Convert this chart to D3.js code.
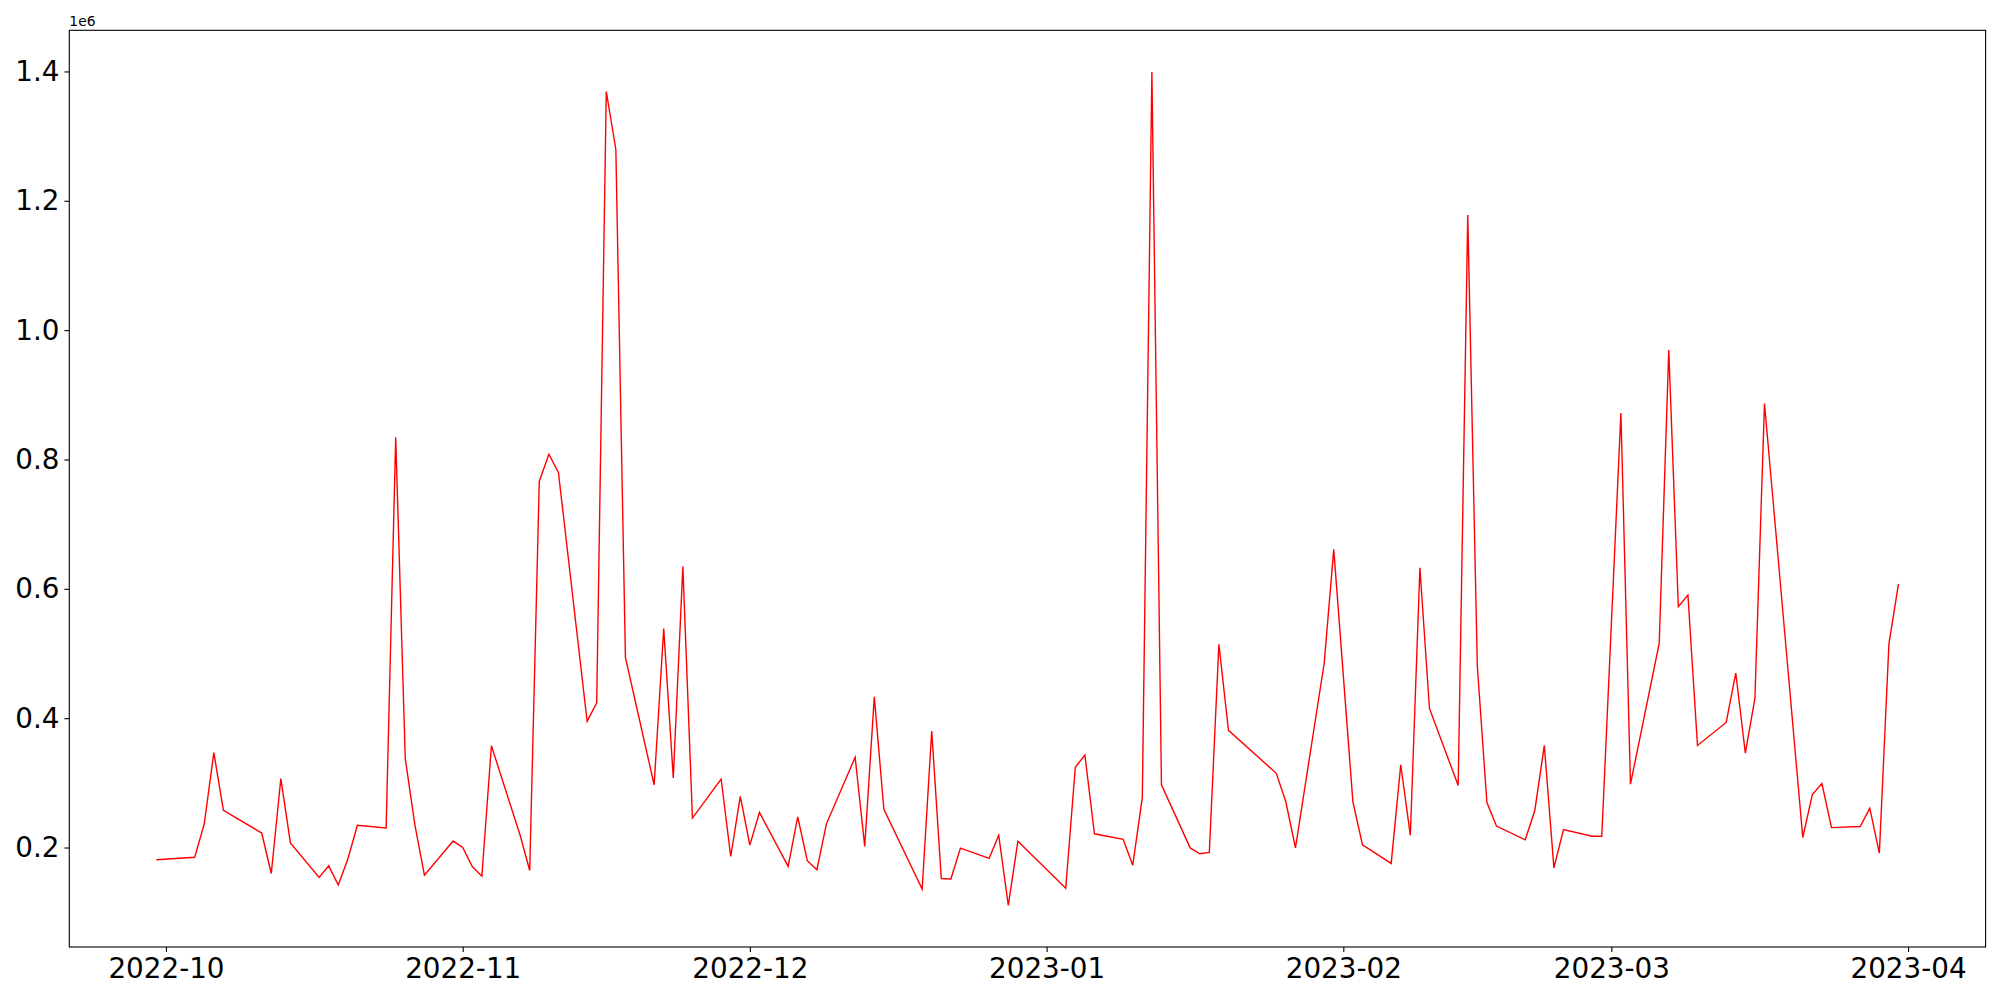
<!DOCTYPE html>
<html>
<head>
<meta charset="utf-8">
<script src="https://cdn.jsdelivr.net/npm/d3@7"></script>
<style>
  body { margin: 0; background: #fff; }
  svg { display: block; font-family: "DejaVu Sans", sans-serif; }
  .axis path, .axis line { stroke: #000; stroke-width: 1.1px; }
  .axis text { fill: #000; font-size: 27.8px; font-family: "DejaVu Sans", sans-serif; }
</style>
</head>
<body>
<svg id="chart"></svg>
<script type="text/javascript">
// trading days (weekends and some holidays missing)
var dates = [
  "2022-09-30",
  "2022-10-04", "2022-10-05", "2022-10-06", "2022-10-07",
  "2022-10-11", "2022-10-12", "2022-10-13", "2022-10-14",
  "2022-10-17", "2022-10-18", "2022-10-19", "2022-10-20", "2022-10-21",
  "2022-10-24", "2022-10-25", "2022-10-26", "2022-10-27", "2022-10-28",
  "2022-10-31", "2022-11-01", "2022-11-02", "2022-11-03", "2022-11-04",
  "2022-11-07", "2022-11-08", "2022-11-09", "2022-11-10", "2022-11-11",
  "2022-11-14", "2022-11-15", "2022-11-16", "2022-11-17", "2022-11-18",
  "2022-11-21", "2022-11-22", "2022-11-23", "2022-11-24", "2022-11-25",
  "2022-11-28", "2022-11-29", "2022-11-30", "2022-12-01", "2022-12-02",
  "2022-12-05", "2022-12-06", "2022-12-07", "2022-12-08", "2022-12-09",
  "2022-12-12", "2022-12-13", "2022-12-14", "2022-12-15",
  "2022-12-19", "2022-12-20", "2022-12-21", "2022-12-22", "2022-12-23",
  "2022-12-26", "2022-12-27", "2022-12-28", "2022-12-29",
  "2023-01-03", "2023-01-04", "2023-01-05", "2023-01-06",
  "2023-01-09", "2023-01-10", "2023-01-11", "2023-01-12", "2023-01-13",
  "2023-01-16", "2023-01-17", "2023-01-18", "2023-01-19", "2023-01-20",
  "2023-01-25", "2023-01-26", "2023-01-27",
  "2023-01-30", "2023-01-31", "2023-02-02", "2023-02-03",
  "2023-02-06", "2023-02-07", "2023-02-08", "2023-02-09", "2023-02-10",
  "2023-02-13", "2023-02-14", "2023-02-15", "2023-02-16", "2023-02-17",
  "2023-02-20", "2023-02-21", "2023-02-22", "2023-02-23", "2023-02-24",
  "2023-02-27", "2023-02-28", "2023-03-02", "2023-03-03",
  "2023-03-06", "2023-03-07", "2023-03-08", "2023-03-09", "2023-03-10",
  "2023-03-13", "2023-03-14", "2023-03-15", "2023-03-16", "2023-03-17",
  "2023-03-21", "2023-03-22", "2023-03-23", "2023-03-24",
  "2023-03-27", "2023-03-28", "2023-03-29", "2023-03-30", "2023-03-31"
];

var volumes = [
  181000,
  185000, 236600, 346700, 257400,
  222400, 159800, 306500, 207100,
  153800, 171600, 142000, 182200, 234300,
  230100, 834200, 337300, 235400, 157300,
  210000, 200000, 170500, 155600, 357400,
  218900, 164400, 766100, 808200, 780000,
  395000, 423700, 1369000, 1279400, 493900,
  296900, 538400, 307600, 634300, 245500,
  305900, 186100, 279200, 203700, 254400,
  170900, 247300, 179700, 165500, 236600,
  339600, 201700, 433000, 258900,
  135800, 380000, 152000, 151300, 199200,
  183300, 218900, 110600, 209700,
  137100, 324100, 343000, 221200,
  212700, 172600, 277500, 1399200, 296900,
  199400, 190400, 192300, 514300, 381200,
  314700, 270300, 199400,
  484900, 661000, 270700, 204300,
  175400, 328000, 218900, 632400, 415000,
  295900, 1178000, 480300, 269600, 233200,
  211900, 256900, 357800, 168500, 227700,
  217500, 217500, 872000, 297900,
  515500, 969100, 572400, 590500, 357800,
  393400, 469800, 345800, 430500, 886600,
  215500, 281800, 298900, 230800,
  232500, 260800, 191300, 514800, 607800
];

var yTicks = [200000, 400000, 600000, 800000, 1000000, 1200000, 1400000];
var offsetLabel = "1e6";

var W = 2000, H = 1000;
var margin = {top: 30.3, right: 14.4, bottom: 53, left: 69.3};
var width = W - margin.left - margin.right;
var height = H - margin.top - margin.bottom;

var parse = d3.utcParse("%Y-%m-%d");
var data = dates.map(function (d, i) {
  return {date: parse(d), value: volumes[i]};
});

// matplotlib-like 5% padding around the data
function padded(ext) {
  var span = ext[1] - ext[0];
  return [ext[0] - span * 0.05, ext[1] + span * 0.05];
}

var xExt = padded(d3.extent(data, function (d) { return +d.date; }));
var yExt = padded(d3.extent(data, function (d) { return d.value; }));

var svg = d3.select("#chart")
    .attr("width", W)
    .attr("height", H);

var g = svg.append("g")
    .attr("transform", "translate(" + margin.left + "," + margin.top + ")");

var x = d3.scaleUtc()
    .domain([new Date(xExt[0]), new Date(xExt[1])])
    .range([0, width]);

var y = d3.scaleLinear()
    .domain(yExt)
    .range([height, 0]);

var line = d3.line()
    .x(function (d) { return x(d.date); })
    .y(function (d) { return y(d.value); });

g.append("path")
    .datum(data)
    .attr("fill", "none")
    .attr("stroke", "#ff0000")
    .attr("stroke-width", 1.4)
    .attr("stroke-linejoin", "miter")
    .attr("d", line);

var xAxis = d3.axisBottom(x)
    .ticks(d3.utcMonth.every(1))
    .tickFormat(d3.utcFormat("%Y-%m"))
    .tickSize(4.9)
    .tickPadding(4.9);

var yAxis = d3.axisLeft(y)
    .tickValues(yTicks)
    .tickFormat(function (d) { return d3.format(".1f")(d / 1e6); })
    .tickSize(4.9)
    .tickPadding(4.9);

var gx = g.append("g")
    .attr("class", "axis")
    .attr("transform", "translate(0," + height + ")")
    .call(xAxis);
gx.select(".domain").remove();
gx.selectAll("text").attr("dy", "0.76em");

var gy = g.append("g")
    .attr("class", "axis")
    .call(yAxis);
gy.select(".domain").remove();

// frame
g.append("rect")
    .attr("width", width)
    .attr("height", height)
    .attr("fill", "none")
    .attr("stroke", "#000")
    .attr("stroke-width", 1.1);

g.append("text")
    .attr("x", 0)
    .attr("y", -4.5)
    .attr("font-size", "13.9px")
    .attr("fill", "#000")
    .text(offsetLabel);
</script>
</body>
</html>
